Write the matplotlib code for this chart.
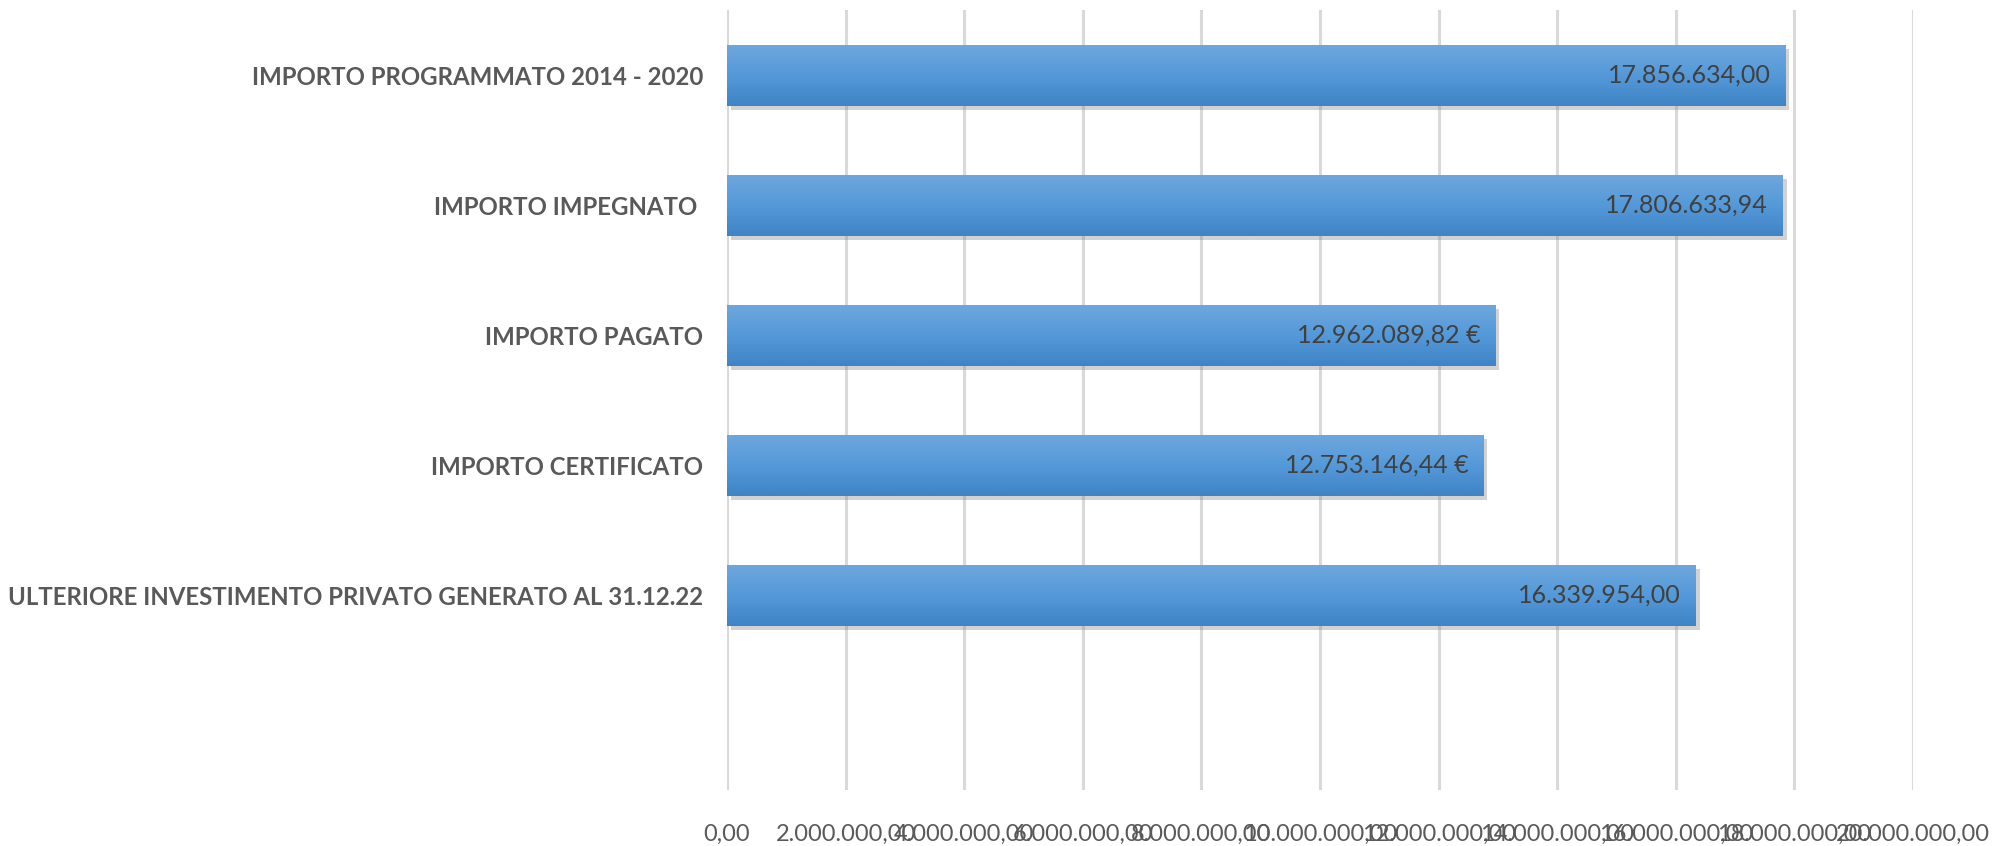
import numpy as np
import matplotlib
matplotlib.use('Agg')
import matplotlib.pyplot as plt
from matplotlib.colors import LinearSegmentedColormap

categories = ['IMPORTO PROGRAMMATO 2014 - 2020', 'IMPORTO IMPEGNATO ', 'IMPORTO PAGATO',
              'IMPORTO CERTIFICATO', 'ULTERIORE INVESTIMENTO PRIVATO GENERATO AL 31.12.22', '']
values = [17856634.00, 17806633.94, 12962089.82, 12753146.44, 16339954.00]
value_labels = ['17.856.634,00', '17.806.633,94', '12.962.089,82 €', '12.753.146,44 €', '16.339.954,00']
ticks = np.arange(0, 22000000, 2000000)
tick_labels = ['0,00', '2.000.000,00', '4.000.000,00', '6.000.000,00', '8.000.000,00',
               '10.000.000,00', '12.000.000,00', '14.000.000,00', '16.000.000,00',
               '18.000.000,00', '20.000.000,00']

plt.rcParams['font.family'] = ['Lato', 'DejaVu Sans']

fig = plt.figure(figsize=(19.99, 8.46), dpi=100)
ax = fig.add_axes([0.3637, 0.066, 0.5933, 0.922])

ypos = np.arange(len(categories))
h = 0.47
grad = LinearSegmentedColormap.from_list('g', ['#6ea7dd', '#5599d9', '#3f84c6'])

for y, v, lab in zip(ypos, values, value_labels):
    # shadow
    ax.barh(y + 0.035, v, height=h, left=60000, color='#7f7f7f', alpha=0.35, zorder=2)
    bar = ax.barh(y, v, height=h, color='#5b9bd5', zorder=3)[0]
    im = ax.imshow(np.linspace(0, 1, 50).reshape(-1, 1), cmap=grad, aspect='auto',
                   extent=[0, v, y + h / 2, y - h / 2], zorder=4)
    im.set_clip_path(bar)
    ax.text(v - 250000, y, lab, ha='right', va='center', fontsize=18,
            color='#404040', zorder=5)

ax.set_xlim(0, 20000000)
ax.set_ylim(len(categories) - 0.5, -0.5)
ax.set_yticks(ypos)
ax.set_yticklabels(categories, fontsize=17.3, fontweight='bold', color='#595959')
ax.set_xticks(ticks)
ax.set_xticklabels(tick_labels, fontsize=17, color='#595959')
ax.tick_params(axis='both', length=0)
ax.tick_params(axis='x', pad=24)
ax.tick_params(axis='y', pad=17)
ax.grid(axis='x', color='#d9d9d9', linewidth=2.2, zorder=0)
ax.set_axisbelow(True)
for s in ax.spines.values():
    s.set_visible(False)

fig.savefig('out.png', dpi=100)
